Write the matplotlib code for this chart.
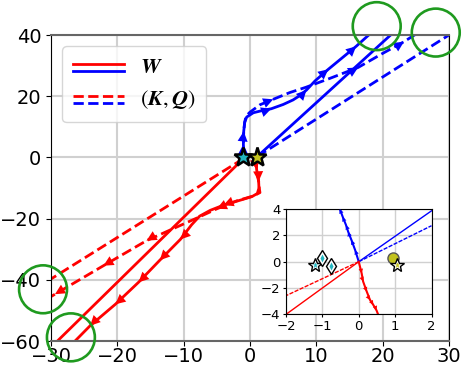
import numpy as np
import matplotlib
matplotlib.use("Agg")
import matplotlib.pyplot as plt
from matplotlib.lines import Line2D
from matplotlib.legend_handler import HandlerBase

plt.rcParams["mathtext.fontset"] = "stix"

# ---- main panel data ----
# straight directions (start at the stars)
w_red_line_x = [-1.0, -29.5]
w_red_line_y = [-0.4, -61.0]
w_blue_line_x = [1.1, 21.7]
w_blue_line_y = [0.3, 41.0]
kq_red_line_x = [-1.0, -30.5]
kq_red_line_y = [-0.4, -40.4]
kq_blue_line_x = [1.1, 30.5]
kq_blue_line_y = [0.3, 40.7]

# trajectories (sampled), arrows drawn at some samples
w_red_x = [0.9, 1.0, 1.3, 1.35, 1.1, 0.3, -1.2, -4.0, -6.0, -7.6, -8.8, -10.5, -13.6, -16.8, -20.3, -24.1, -26.6]
w_red_y = [0.0, -4.0, -7.8, -10.0, -11.8, -12.8, -13.8, -15.6, -17.3, -19.2, -22.0, -26.8, -33.6, -40.8, -48.0, -55.0, -60.5]
w_red_arrows = [1, 2, 7, 11, 12, 13, 14, 15]

kq_red_x = [0.9, 1.0, 1.3, 1.4, 1.5, 0.5, -2.0, -5.0, -8.0, -11.5, -15.6, -22.1, -29.4, -31.0]
kq_red_y = [0.0, -4.0, -7.8, -10.0, -11.5, -12.6, -14.2, -16.8, -19.8, -23.2, -27.2, -35.4, -44.7, -46.8]
kq_red_arrows = [7, 10, 11, 12]

w_blue_x = [-0.9, -1.0, -0.95, -0.8, -0.5, 0.5, 2.0, 3.2, 5.0, 6.5, 7.5, 8.5, 9.8, 11.8, 16.0, 18.3]
w_blue_y = [0.0, 4.3, 8.5, 11.5, 13.2, 14.6, 15.4, 15.9, 17.3, 18.8, 20.2, 22.0, 25.0, 28.8, 36.3, 40.8]
w_blue_arrows = [1, 2, 7, 11, 13, 14]

kq_blue_x = [-0.9, -1.0, -0.95, -0.8, -0.6, 0.0, 1.5, 3.5, 6.0, 8.4, 12.0, 16.3, 20.0, 23.2, 25.0]
kq_blue_y = [0.0, 4.3, 8.5, 11.5, 13.5, 14.8, 17.2, 19.0, 21.2, 22.9, 25.8, 29.4, 34.0, 37.8, 40.3]
kq_blue_arrows = [7, 11, 13]

star_x = [-1.0, 1.0]
star_y = [0.0, 0.0]
star_colors = ["#22b5c0", "#c2c21e"]

circle_x = [19.1, 28.0, -31.2, -27.0]
circle_y = [42.9, 40.8, -43.1, -58.8]

# ---- inset data ----
in_w_red_x = [0.0, -2.0]
in_w_red_y = [0.0, -4.0]
in_kq_red_x = [0.0, -2.0]
in_kq_red_y = [0.0, -2.58]
in_w_blue_x = [0.0, 2.0]
in_w_blue_y = [0.0, 3.86]
in_kq_blue_x = [0.0, 2.0]
in_kq_blue_y = [0.0, 2.73]
in_blue_traj_x = [0.0, -0.1, -0.2, -0.29, -0.35, -0.44, -0.52, -0.6]
in_blue_traj_y = [0.0, 0.89, 1.64, 2.27, 2.78, 3.4, 4.0, 4.6]
in_red_traj_x = [0.0, 0.08, 0.12, 0.22, 0.31, 0.4, 0.49, 0.56]
in_red_traj_y = [0.0, -0.88, -1.5, -2.27, -2.9, -3.28, -3.7, -4.2]
in_cyan_star = (-1.2, -0.25)
in_cyan_diam_x = [-1.02, -0.77]
in_cyan_diam_y = [0.26, -0.3]
in_yel_circle = (0.95, 0.3)
in_yel_star = (1.04, -0.25)

RED = "#ff0000"
BLUE = "#0000ff"


def add_arrows(ax, xs, ys, idx, color, size, back=8):
    for i in idx:
        p0 = ax.transData.transform((xs[i], ys[i]))
        p1 = ax.transData.transform((xs[i + 1], ys[i + 1]))
        d = (p1 - p0) / np.hypot(*(p1 - p0))
        ax.annotate("", xy=(xs[i], ys[i]), xytext=(-back * d[0], -back * d[1]),
                    textcoords="offset points",
                    arrowprops=dict(arrowstyle="-|>", color=color, lw=0.01,
                                    mutation_scale=size, shrinkA=0, shrinkB=0))


class HandlerStack(HandlerBase):
    def create_artists(self, legend, orig_handle, xdescent, ydescent, width, height, fontsize, trans):
        arts = []
        for k, h in enumerate(orig_handle):
            y = height * (0.62 - 0.45 * k) - ydescent
            ln = Line2D([-xdescent, width - xdescent], [y, y], color=h.get_color(),
                        linestyle=h.get_linestyle(), lw=h.get_linewidth(), transform=trans)
            arts.append(ln)
        return arts


fig = plt.figure(figsize=(4.62, 3.66), dpi=100)
ax = fig.add_axes([0.1104, 0.0683, 0.8615, 0.836])
ax.set_xlim(-30, 30)
ax.set_ylim(-60, 40)

ax.plot(w_red_line_x, w_red_line_y, color=RED, lw=2)
ax.plot(kq_red_line_x, kq_red_line_y, color=RED, lw=2, ls="--")
ax.plot(w_blue_line_x, w_blue_line_y, color=BLUE, lw=2)
ax.plot(kq_blue_line_x, kq_blue_line_y, color=BLUE, lw=2, ls="--")

ax.plot(w_red_x, w_red_y, color=RED, lw=2)
ax.plot(kq_red_x, kq_red_y, color=RED, lw=2, ls="--")
ax.plot(w_blue_x, w_blue_y, color=BLUE, lw=2)
ax.plot(kq_blue_x, kq_blue_y, color=BLUE, lw=2, ls="--")
add_arrows(ax, w_red_x, w_red_y, w_red_arrows, RED, 18)
add_arrows(ax, kq_red_x, kq_red_y, kq_red_arrows, RED, 18)
add_arrows(ax, w_blue_x, w_blue_y, w_blue_arrows, BLUE, 18)
add_arrows(ax, kq_blue_x, kq_blue_y, kq_blue_arrows, BLUE, 18)

for sx, sy, c in zip(star_x, star_y, star_colors):
    ax.plot(sx, sy, marker="*", ms=14, mfc=c, mec="k", mew=1.8, zorder=5)

ax.scatter(circle_x, circle_y, s=1190, facecolors="none", edgecolors="#1f9a1f",
           linewidths=1.9, clip_on=False, zorder=6)

ax.set_xticks([-30, -20, -10, 0, 10, 20, 30])
ax.set_yticks([-60, -40, -20, 0, 20, 40])
ax.tick_params(labelsize=14)
ax.tick_params(axis="x", pad=0.5)
ax.grid(True, color="#d0d0d0", lw=1.5)
ax.set_axisbelow(True)
for side in ["top", "bottom"]:
    ax.spines[side].set_color("#666666")
    ax.spines[side].set_linewidth(1.5)

h_wr = Line2D([], [], color=RED, lw=2)
h_wb = Line2D([], [], color=BLUE, lw=2)
h_kr = Line2D([], [], color=RED, lw=2, ls="--")
h_kb = Line2D([], [], color=BLUE, lw=2, ls="--")
ax.legend([(h_wr, h_wb), (h_kr, h_kb)],
          [r"$\mathbfit{W}$", r"$(\mathbfit{K},\mathbfit{Q})\quad$"],
          handler_map={tuple: HandlerStack()}, loc="upper left", fontsize=16,
          handlelength=2.3, handletextpad=0.7, borderpad=0.5)

# ---- inset ----
axi = fig.add_axes([0.619, 0.141, 0.315, 0.288])
axi.set_xlim(-2, 2)
axi.set_ylim(-4, 4)
axi.plot(in_w_red_x, in_w_red_y, color=RED, lw=1)
axi.plot(in_kq_red_x, in_kq_red_y, color=RED, lw=1, ls="--", dashes=(3, 1))
axi.plot(in_w_blue_x, in_w_blue_y, color=BLUE, lw=1)
axi.plot(in_kq_blue_x, in_kq_blue_y, color=BLUE, lw=1, ls="--", dashes=(3, 1))
axi.plot(in_blue_traj_x, in_blue_traj_y, color=BLUE, lw=1.5)
axi.plot(in_red_traj_x, in_red_traj_y, color=RED, lw=1.5)
idx = list(range(1, len(in_blue_traj_x) - 1))
add_arrows(axi, in_blue_traj_x, in_blue_traj_y, idx, BLUE, 8, back=4)
add_arrows(axi, in_red_traj_x, in_red_traj_y, idx, RED, 8, back=4)

axi.plot(*in_cyan_star, marker="*", ms=10, mfc="white", mec="k", mew=1, zorder=5)
axi.plot(*in_cyan_star, marker="*", ms=4.5, mfc=star_colors[0], mec="none", zorder=6)
axi.plot(in_cyan_diam_x, in_cyan_diam_y, ls="none", marker="d", ms=8, mfc="white", mec="k", mew=1, zorder=5)
axi.plot(in_cyan_diam_x, in_cyan_diam_y, ls="none", marker="d", ms=4, mfc=star_colors[0], mec="none", zorder=6)
axi.plot(*in_yel_circle, marker="o", ms=8, mfc=star_colors[1], mec="#555555", mew=1, zorder=5)
axi.plot(*in_yel_star, marker="*", ms=10, mfc="white", mec="k", mew=1, zorder=5)
axi.plot(*in_yel_star, marker="*", ms=4.5, mfc=star_colors[1], mec="none", zorder=6)

axi.set_xticks([-2, -1, 0, 1, 2])
axi.set_yticks([-4, -2, 0, 2, 4])
axi.tick_params(labelsize=9.5, length=2.5, pad=1.5)
axi.grid(True, color="#d0d0d0", lw=1)
axi.set_axisbelow(True)

fig.savefig("out.png", dpi=100)
